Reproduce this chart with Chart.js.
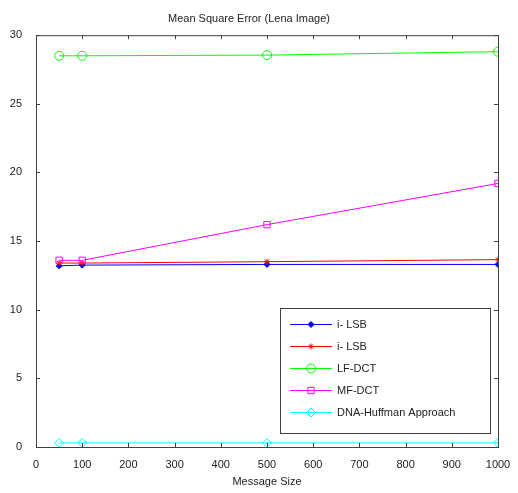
<!DOCTYPE html>
<html>
<head>
<meta charset="utf-8">
<script src="https://cdn.jsdelivr.net/npm/chart.js@4/dist/chart.umd.min.js"></script>
<style>
  html, body { margin: 0; padding: 0; background: #fff; }
  #wrap { width: 518px; height: 493px; }
</style>
</head>
<body>
<div id="wrap"><canvas id="mse"></canvas></div>
<script>
const messageSizes = [50, 100, 500, 1000];
const seriesNames = ['i- LSB', 'i- LSB', 'LF-DCT', 'MF-DCT', 'DNA-Huffman Approach'];
const lsbBlue = [13.2, 13.25, 13.3, 13.3];
const lsbRed = [13.4, 13.4, 13.5, 13.65];
const lfDct = [28.5, 28.5, 28.55, 28.8];
const mfDct = [13.6, 13.6, 16.2, 19.2];
const dnaHuffman = [0.3, 0.3, 0.3, 0.3];
const xTicks = [0, 100, 200, 300, 400, 500, 600, 700, 800, 900, 1000];
const yTicks = [0, 5, 10, 15, 20, 25, 30];

const FONT = 'Liberation Sans, Arial, sans-serif';

function points(values) {
  return values.map((v, i) => ({ x: messageSizes[i], y: v }));
}

const styles = [
  { color: '#0000ff', point: 'rectRot', radius: 3, fill: true },
  { color: '#ff0000', point: 'star', radius: 3, fill: false },
  { color: '#00ff00', point: 'circle', radius: 4.5, fill: false },
  { color: '#ff00ff', point: 'rect', radius: 4.5, fill: false },
  { color: '#00ffff', point: 'rectRot', radius: 4.5, fill: false },
];

const datasets = [lsbBlue, lsbRed, lfDct, mfDct, dnaHuffman].map((vals, i) => ({
  label: seriesNames[i],
  data: points(vals),
  borderColor: styles[i].color,
  backgroundColor: styles[i].fill ? styles[i].color : 'rgba(0,0,0,0)',
  borderWidth: 1,
  pointStyle: styles[i].point,
  pointRadius: styles[i].radius,
  pointBorderWidth: 1,
  pointBorderColor: styles[i].color,
  pointBackgroundColor: styles[i].fill ? styles[i].color : 'rgba(0,0,0,0)',
  tension: 0,
}));
// later series drawn on top, same as the original plot order
datasets.forEach((d, i) => { d.order = 4 - i; });

// matlab-ish frame, inward ticks, legend box in lower right
const matlabFrame = {
  id: 'matlabFrame',
  afterDraw(chart) {
    const { ctx, chartArea: a, scales } = chart;
    ctx.save();
    ctx.strokeStyle = '#404040';
    ctx.lineWidth = 1;
    ctx.strokeRect(a.left + 0.5, a.top + 0.5, a.right - a.left, a.bottom - a.top);
    ctx.beginPath();
    xTicks.forEach((t) => {
      const px = Math.round(scales.x.getPixelForValue(t)) + 0.5;
      ctx.moveTo(px, a.bottom); ctx.lineTo(px, a.bottom - 4);
      ctx.moveTo(px, a.top); ctx.lineTo(px, a.top + 4);
    });
    yTicks.forEach((t) => {
      const py = Math.round(scales.y.getPixelForValue(t)) + 0.5;
      ctx.moveTo(a.left, py); ctx.lineTo(a.left + 4, py);
      ctx.moveTo(a.right, py); ctx.lineTo(a.right - 4, py);
    });
    ctx.stroke();

    // legend
    const w = 210, h = 125;
    const bx = a.right - 8 - w, by = a.bottom - 14 - h;
    ctx.fillStyle = '#fff';
    ctx.fillRect(bx, by, w, h);
    ctx.strokeStyle = '#404040';
    ctx.strokeRect(bx + 0.5, by + 0.5, w, h);
    ctx.font = '11px ' + FONT;
    ctx.textBaseline = 'middle';
    chart.data.datasets.forEach((d, i) => {
      const y = Math.round(by + 16 + i * 22) + 0.5;
      ctx.strokeStyle = d.borderColor;
      ctx.beginPath();
      ctx.moveTo(bx + 10, y); ctx.lineTo(bx + 52, y);
      ctx.stroke();
      ctx.fillStyle = d.pointBackgroundColor;
      Chart.helpers.drawPoint(ctx, {
        pointStyle: d.pointStyle, radius: d.pointRadius, borderWidth: 1, rotation: 0,
      }, bx + 31, y);
      ctx.fillStyle = '#222';
      ctx.fillText(d.label, bx + 57, y);
    });
    ctx.restore();
  },
};

new Chart(document.getElementById('mse'), {
  type: 'line',
  data: { datasets },
  plugins: [matlabFrame],
  options: {
    responsive: true,
    maintainAspectRatio: false,
    animation: false,
    layout: { padding: { top: 2, right: 20, left: 0, bottom: 0 } },
    plugins: {
      legend: { display: false },
      tooltip: { enabled: false },
      title: {
        display: true,
        text: 'Mean Square Error (Lena Image)',
        color: '#222',
        font: { family: FONT, size: 11, weight: 'normal' },
        padding: { top: 10, bottom: 10 },
      },
    },
    scales: {
      x: {
        type: 'linear',
        min: 0,
        max: 1000,
        afterBuildTicks: (s) => { s.ticks = xTicks.map((v) => ({ value: v })); },
        afterFit: (s) => { s.height = 46; },
        grid: { display: false },
        border: { display: false },
        ticks: {
          color: '#222', font: { family: FONT, size: 11 }, padding: 3, maxRotation: 0,
          callback: (v) => String(v),
        },
        title: {
          display: true,
          text: 'Message Size',
          color: '#222',
          font: { family: FONT, size: 11 },
          padding: { top: 6 },
        },
      },
      y: {
        min: 0,
        max: 30,
        afterBuildTicks: (s) => { s.ticks = yTicks.map((v) => ({ value: v })); },
        afterFit: (s) => { s.width = 36; },
        grid: { display: false },
        border: { display: false },
        ticks: { color: '#222', font: { family: FONT, size: 11 }, padding: 6, callback: (v) => String(v) },
      },
    },
  },
});
</script>
</body>
</html>
